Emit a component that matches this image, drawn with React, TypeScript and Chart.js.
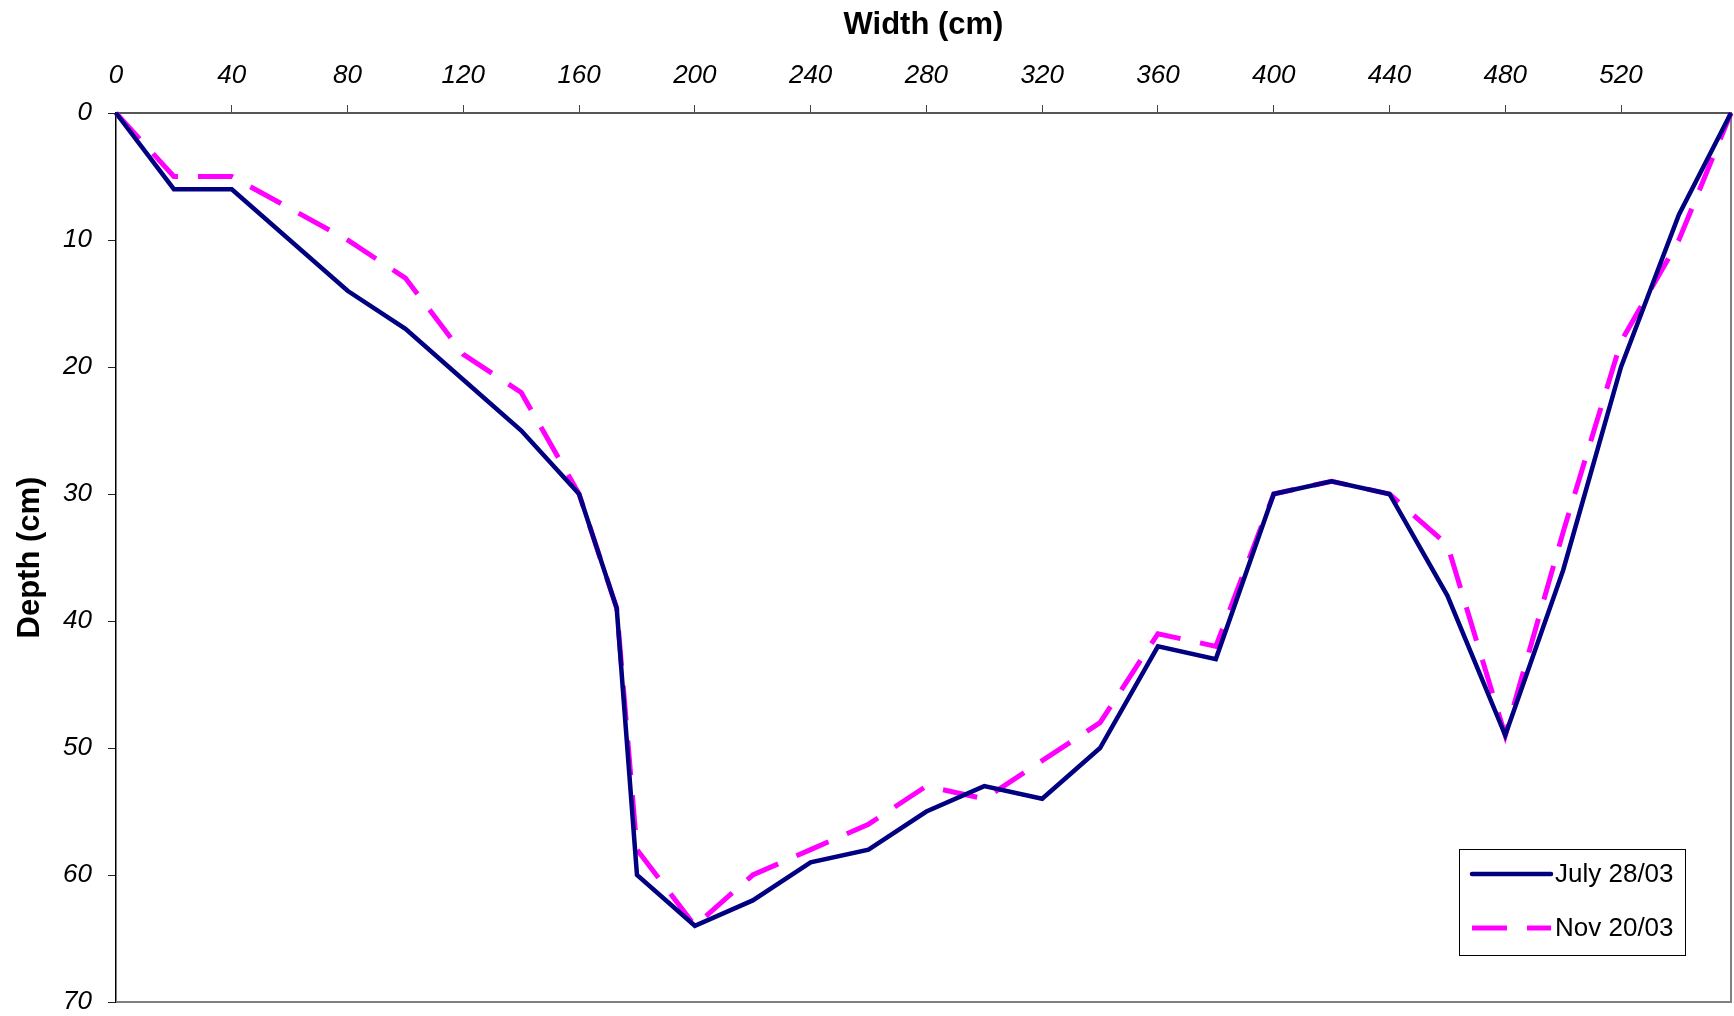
import React, { useEffect, useRef } from "react";
import { Chart, registerables } from "chart.js";

Chart.register(...registerables);

// ---- Data ----
const widths = [0, 20, 40, 80, 100, 120, 140, 160, 173, 180, 200, 220, 240, 260, 280, 300, 320, 340, 360, 380, 400, 420, 440, 460, 480, 500, 520, 540, 558];
const july = [0, 6, 6, 14, 17, 21, 25, 30, 39, 60, 64, 62, 59, 58, 55, 53, 54, 50, 42, 43, 30, 29, 30, 38, 49, 36, 20, 8, 0];
const nov = [0, 5, 5, 10, 13, 19, 22, 30, 39, 58, 64, 60, 58, 56, 53, 54, 51, 48, 41, 42, 30, 29, 30, 34, 49, 33, 18, 10, 0];
const seriesLabels = ["July 28/03", "Nov 20/03"];
const xTicks = [0, 40, 80, 120, 160, 200, 240, 280, 320, 360, 400, 440, 480, 520];
const yTicks = [0, 10, 20, 30, 40, 50, 60, 70];
const xTitle = "Width (cm)";
const yTitle = "Depth (cm)";

const FONT = '"Liberation Sans", Arial, Helvetica, sans-serif';

const borderPlugin = {
  id: "plotBorder",
  beforeDatasetsDraw(chart: any) {
    const { ctx, chartArea } = chart;
    ctx.save();
    ctx.strokeStyle = "#808080";
    ctx.lineWidth = 2;
    ctx.beginPath();
    ctx.moveTo(chartArea.left, chartArea.bottom);
    ctx.lineTo(chartArea.right, chartArea.bottom);
    ctx.lineTo(chartArea.right, chartArea.top);
    ctx.stroke();
    ctx.restore();
  },
};

const legendPlugin = {
  id: "boxLegend",
  afterDraw(chart: any) {
    const { ctx, chartArea } = chart;
    const bx = chartArea.right - 272;
    const by = chartArea.bottom - 153;
    const bw = 226;
    const bh = 106;
    ctx.save();
    ctx.fillStyle = "#ffffff";
    ctx.fillRect(bx, by, bw, bh);
    ctx.strokeStyle = "#000000";
    ctx.lineWidth = 1;
    ctx.setLineDash([]);
    ctx.strokeRect(bx + 0.5, by + 0.5, bw, bh);
    chart.data.datasets.forEach((ds: any, i: number) => {
      const y = by + 25 + i * 54;
      ctx.beginPath();
      const dashed = ds.borderDash && ds.borderDash.length > 0;
      ctx.setLineDash(dashed ? ds.borderDash : []);
      ctx.lineWidth = ds.borderWidth;
      ctx.strokeStyle = ds.borderColor;
      ctx.lineCap = dashed ? "butt" : "round";
      ctx.moveTo(bx + 13, y);
      ctx.lineTo(bx + 92, y);
      ctx.stroke();
      ctx.setLineDash([]);
      ctx.fillStyle = "#000000";
      ctx.font = `26px ${FONT}`;
      ctx.textBaseline = "middle";
      ctx.textAlign = "left";
      ctx.fillText(ds.label, bx + 96, y + 1);
    });
    ctx.restore();
  },
};

export default function App() {
  const canvasRef = useRef<HTMLCanvasElement | null>(null);

  useEffect(() => {
    if (!canvasRef.current) return;
    const julyPts = widths.map((x, i) => ({ x, y: july[i] }));
    const novPts = widths.map((x, i) => ({ x, y: nov[i] }));
    const chart = new Chart(canvasRef.current, {
      type: "line",
      data: {
        datasets: [
          {
            label: seriesLabels[0],
            data: julyPts,
            borderColor: "#000080",
            backgroundColor: "#000080",
            borderWidth: 4.5,
            pointRadius: 0,
            tension: 0,
            fill: false,
            clip: false as any,
            spanGaps: true,
          },
          {
            label: seriesLabels[1],
            data: novPts,
            borderColor: "#FF00FF",
            backgroundColor: "#FF00FF",
            borderWidth: 5,
            borderDash: [35, 20],
            borderCapStyle: "butt",
            pointRadius: 0,
            tension: 0,
            fill: false,
            clip: false as any,
            spanGaps: true,
          },
        ],
      },
      options: {
        responsive: false,
        maintainAspectRatio: false,
        animation: false,
        devicePixelRatio: 1,
        layout: { padding: { left: 0, top: 0, right: 3, bottom: 14 } },
        plugins: {
          legend: { display: false },
          tooltip: { enabled: false },
        },
        scales: {
          x: {
            type: "linear",
            position: "top",
            min: 0,
            max: 558,
            afterBuildTicks: (s: any) => {
              s.ticks = xTicks.map((v) => ({ value: v }));
            },
            afterFit: (s: any) => {
              s.height = 113;
              s.paddingLeft = 0;
              s.paddingRight = 0;
            },
            ticks: {
              autoSkip: false,
              maxRotation: 0,
              padding: 14,
              color: "#000000",
              font: { family: FONT, size: 26, style: "italic", lineHeight: 1.2 },
              callback: (v: any) => String(v),
            },
            grid: {
              display: true,
              drawOnChartArea: false,
              drawTicks: true,
              tickLength: 8,
              lineWidth: 1,
              color: (c: any) => (c.tick && c.tick.value === 0 ? "rgba(0,0,0,0)" : "#444444"),
            },
            border: { display: true, color: "#555555", width: 2 },
            title: {
              display: true,
              text: xTitle,
              color: "#000000",
              font: { family: FONT, size: 31, weight: "bold", lineHeight: 1.2 },
              padding: { top: 7, bottom: 0 },
            },
          },
          y: {
            type: "linear",
            position: "left",
            reverse: true,
            min: 0,
            max: 70,
            afterBuildTicks: (s: any) => {
              s.ticks = yTicks.map((v) => ({ value: v }));
            },
            afterFit: (s: any) => {
              s.width = 116;
              s.paddingTop = 0;
              s.paddingBottom = 0;
            },
            ticks: {
              padding: 16,
              color: "#000000",
              font: { family: FONT, size: 26, style: "italic", lineHeight: 1 },
              callback: (v: any) => String(v),
            },
            grid: {
              display: true,
              drawOnChartArea: false,
              drawTicks: true,
              tickLength: 8,
              lineWidth: 1,
              color: "#222222",
            },
            border: { display: true, color: "#000000", width: 1.5 },
            title: {
              display: true,
              text: yTitle,
              color: "#000000",
              font: { family: FONT, size: 31, weight: "bold", lineHeight: 1.2 },
              padding: { top: 12, bottom: 0 },
            },
          },
        },
      } as any,
      plugins: [borderPlugin, legendPlugin],
    });
    return () => {
      chart.destroy();
    };
  }, []);

  return (
    <div style={{ position: "absolute", left: 0, top: 0, width: 1734, height: 1016, background: "#ffffff" }}>
      <canvas ref={canvasRef} width={1734} height={1016} style={{ display: "block", width: 1734, height: 1016 }} />
    </div>
  );
}
